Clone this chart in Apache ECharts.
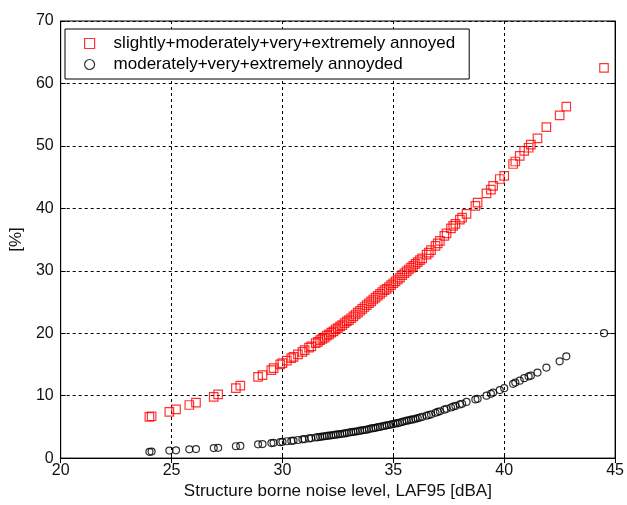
<!DOCTYPE html>
<html><head><meta charset="utf-8">
<script src="https://cdn.jsdelivr.net/npm/echarts@6/dist/echarts.min.js"></script>
<style>html,body{margin:0;padding:0;background:#fff}#c{width:627px;height:505px}</style>
</head><body><div id="c"></div>
<script>
var seriesNames = ['slightly+moderately+very+extremely annoyed', 'moderately+very+extremely annoyded'];
var xTicks = [20, 25, 30, 35, 40, 45];
var yTicks = [0, 10, 20, 30, 40, 50, 60, 70];
var noiseLevel = [24.0,24.1,24.9,25.2,25.8,26.1,26.9,27.1,27.9,28.1,28.9,29.1,29.5,29.6,29.9,30.0,30.2,30.4,30.5,30.7,30.9,31.0,31.2,31.3,31.5,31.6,31.7,31.8,31.9,32.0,32.1,32.2,32.3,32.4,32.5,32.6,32.7,32.8,32.9,33.0,33.1,33.2,33.3,33.4,33.5,33.6,33.7,33.8,33.9,34.0,34.1,34.2,34.3,34.4,34.5,34.6,34.7,34.8,34.9,35.0,35.1,35.2,35.3,35.4,35.5,35.6,35.7,35.8,35.9,36.0,36.1,36.2,36.3,36.5,36.6,36.7,36.9,37.0,37.1,37.3,37.4,37.6,37.7,37.8,38.0,38.1,38.3,38.7,38.8,39.2,39.4,39.5,39.8,40.0,40.4,40.5,40.7,40.9,41.1,41.2,41.5,41.9,42.5,42.8,44.5];
var annoyedSlightlyPlus = [6.6,6.7,7.4,7.8,8.5,8.9,9.8,10.2,11.2,11.6,13.0,13.3,14.1,14.4,15.0,15.2,15.6,16.0,16.2,16.6,17.0,17.3,17.7,17.9,18.4,18.6,18.9,19.1,19.3,19.6,19.8,20.1,20.3,20.6,20.8,21.1,21.3,21.6,21.9,22.1,22.4,22.7,23.0,23.3,23.6,23.9,24.2,24.5,24.8,25.1,25.4,25.7,26.0,26.3,26.6,26.9,27.1,27.4,27.7,28.0,28.3,28.6,28.9,29.3,29.6,29.9,30.2,30.5,30.8,31.1,31.4,31.7,32.0,32.6,32.9,33.3,34.0,34.4,34.8,35.6,36.0,36.8,37.2,37.5,38.2,38.5,39.1,40.4,40.9,42.4,43.0,43.6,44.7,45.2,47.1,47.5,48.4,49.2,49.7,50.2,51.2,53.0,54.9,56.3,62.5];
var annoyedModeratelyPlus = [1.0,1.05,1.2,1.25,1.4,1.45,1.6,1.65,1.9,1.95,2.2,2.25,2.4,2.45,2.55,2.6,2.7,2.75,2.8,2.9,3.0,3.05,3.15,3.2,3.3,3.35,3.4,3.45,3.5,3.55,3.6,3.65,3.7,3.75,3.8,3.85,3.9,3.95,4.0,4.1,4.15,4.2,4.25,4.3,4.4,4.45,4.5,4.55,4.65,4.75,4.8,4.85,4.95,5.0,5.1,5.15,5.25,5.3,5.4,5.45,5.55,5.6,5.7,5.8,5.9,6.0,6.05,6.15,6.2,6.3,6.4,6.5,6.6,6.8,6.9,7.0,7.25,7.4,7.5,7.75,7.9,8.1,8.25,8.35,8.6,8.7,9.0,9.4,9.5,10.0,10.3,10.5,10.9,11.2,11.9,12.1,12.4,12.8,13.1,13.2,13.7,14.5,15.5,16.3,20.0];

function zip(xs, ys){ return xs.map(function(x,i){ return [x, ys[i]]; }); }

var chart = echarts.init(document.getElementById('c'), null, {renderer:'canvas'});
var font = 'Liberation Sans, Arial, sans-serif';
chart.setOption({
  animation: false,
  backgroundColor: '#fff',
  grid: {left:57, right:9, top:21, bottom:44, show:true, borderColor:'#000', borderWidth:1, backgroundColor:'#fff'},
  legend: {
    left: 65, top: 29, orient: 'vertical',
    backgroundColor:'#fff', borderColor:'#000', borderWidth:1,
    padding:[6, 14, 6, 19], itemGap: 4, itemWidth: 10, itemHeight: 10,
    textStyle:{fontFamily: font, fontSize: 17, color:'#000', padding:[0,0,0,14]},
    data:[
      {name: seriesNames[0], icon:'rect', itemStyle:{color:'#fff', borderColor:'#ff0000', borderWidth:1.2}},
      {name: seriesNames[1], icon:'circle', itemStyle:{color:'#fff', borderColor:'#000', borderWidth:1.2}}
    ]
  },
  xAxis: [{
    type:'value', min: xTicks[0], max: xTicks[xTicks.length-1], interval:5,
    name:'Structure borne noise level, LAF95 [dBA]', nameLocation:'middle', nameGap:22,
    nameTextStyle:{fontFamily:font, fontSize:17, color:'#111'},
    axisLine:{show:true, lineStyle:{color:'#000'}},
    axisTick:{show:true, inside:true, length:5, lineStyle:{color:'#000'}},
    axisLabel:{fontFamily:font, fontSize:16, color:'#111', margin:4},
    splitLine:{show:true, lineStyle:{color:'#000', type:[3,3], width:1}}
  },{
    type:'value', position:'top', min: xTicks[0], max: xTicks[xTicks.length-1], interval:5,
    axisLine:{show:true, lineStyle:{color:'#000'}},
    axisTick:{show:true, inside:true, length:5, lineStyle:{color:'#000'}},
    axisLabel:{show:false}, splitLine:{show:false}
  }],
  yAxis: [{
    type:'value', min: yTicks[0], max: yTicks[yTicks.length-1], interval:10,
    name:'[%]', nameLocation:'middle', nameGap:31, nameRotate:90,
    nameTextStyle:{fontFamily:font, fontSize:17, color:'#111'},
    axisLine:{show:true, lineStyle:{color:'#000'}},
    axisTick:{show:true, inside:true, length:5, lineStyle:{color:'#000'}},
    axisLabel:{fontFamily:font, fontSize:16, color:'#111', margin:7},
    splitLine:{show:true, lineStyle:{color:'#000', type:[3,3], width:1}}
  },{
    type:'value', position:'right', min: yTicks[0], max: yTicks[yTicks.length-1], interval:10,
    axisLine:{show:true, lineStyle:{color:'#000'}},
    axisTick:{show:true, inside:true, length:5, lineStyle:{color:'#000'}},
    axisLabel:{show:false}, splitLine:{show:false}
  }],
  series: [
    {name: seriesNames[0], type:'scatter', symbol:'rect', symbolSize:8.5,
     itemStyle:{color:'rgba(255,255,255,0)', borderColor:'#ff0000', borderWidth:1.2},
     data: zip(noiseLevel, annoyedSlightlyPlus)},
    {name: seriesNames[1], type:'scatter', symbol:'circle', symbolSize:7,
     itemStyle:{color:'rgba(255,255,255,0)', borderColor:'#000', borderWidth:1.2},
     data: zip(noiseLevel, annoyedModeratelyPlus)}
  ]
});
</script></body></html>
